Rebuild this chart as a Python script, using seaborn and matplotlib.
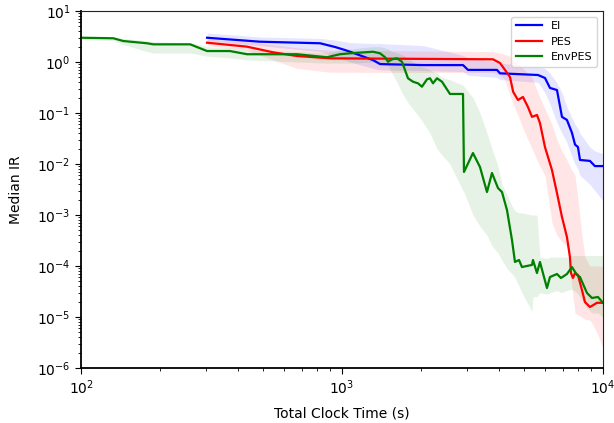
import matplotlib
matplotlib.use("Agg")
import matplotlib.pyplot as plt
import seaborn as sns
import numpy as np

# EI
ei_t = [304, 485, 824, 940, 1026, 1073, 1315, 1399, 2044, 2909, 3040, 3926, 4031, 5636, 5995,
        6266, 6665, 6966, 7278, 7606, 7817, 8020, 8166, 8913, 9314, 10000]
ei_med = [2.99, 2.50, 2.33, 1.97, 1.72, 1.59, 1.09, 0.91, 0.87, 0.87, 0.70, 0.70, 0.60, 0.556, 0.486,
          0.31, 0.282, 0.084, 0.073, 0.041, 0.024, 0.0215, 0.012, 0.0115, 0.0091, 0.0091]
ei_lo = [2.6, 2.1, 1.6, 1.3, 1.1, 1.0, 0.75, 0.70, 0.68, 0.65, 0.55, 0.5, 0.45, 0.40, 0.25,
         0.15, 0.064, 0.04, 0.026, 0.014, 0.01, 0.008, 0.006, 0.004, 0.003, 0.0019]
ei_hi = [3.7, 3.1, 2.9, 2.7, 2.5, 2.4, 2.3, 2.3, 2.1, 1.35, 1.2, 1.0, 0.95, 0.8, 0.75,
         0.6, 0.39, 0.25, 0.13, 0.08, 0.06, 0.05, 0.04, 0.0215, 0.018, 0.016]

# PES
pes_t = [304, 432, 544, 672, 899, 3788, 4031, 4212, 4403, 4528, 4725, 4938, 5160, 5346, 5587,
         5736, 5995, 6377, 6665, 6966, 7278, 7473, 7540, 7673, 7817, 8020, 8309, 8531, 8913,
         9155, 9484, 10000]
pes_med = [2.39, 2.0, 1.55, 1.31, 1.18, 1.13, 0.956, 0.70, 0.508, 0.26, 0.18, 0.206, 0.131, 0.084,
           0.0914, 0.0637, 0.0215, 0.00762, 0.0027, 9.14e-4, 3.7e-4, 1.5e-4, 7.29e-5, 5.82e-5,
           7.29e-5, 6.67e-5, 3.38e-5, 1.97e-5, 1.57e-5, 1.7e-5, 1.9e-5, 1.9e-5]
pes_lo = [2.1, 1.7, 1.1, 0.75, 0.63, 0.62, 0.55, 0.45, 0.22, 0.15, 0.09, 0.05, 0.03, 0.02, 0.012,
          0.009, 0.006, 7e-4, 4e-4, 3e-4, 2.4e-4, 1e-4, 6e-5, 2.5e-5, 1.2e-5, 1.1e-5, 1e-5, 9e-6,
          8.7e-6, 7e-6, 5e-6, 2.5e-6]
pes_hi = [2.8, 2.5, 2.2, 1.9, 1.7, 1.6, 1.5, 1.4, 1.3, 1.1, 0.9, 0.75, 0.6, 0.5, 0.28,
          0.2, 0.12, 0.06, 0.03, 0.018, 0.012, 0.009, 0.008, 0.007, 0.006, 0.002, 4e-4, 1.5e-4,
          1e-4, 1e-4, 1e-4, 1e-4]

# EnvPES
env_t = [100, 133, 145, 179, 189, 262, 304, 372, 433, 672, 876, 982, 1073, 1315, 1399, 1462,
         1501, 1555, 1625, 1698, 1743, 1790, 1871, 1955, 2025, 2117, 2174, 2232, 2312, 2416,
         2593, 2909, 2934, 3176, 3379, 3594, 3756, 3960, 4103, 4288, 4481, 4601, 4767, 4894,
         5346, 5393, 5587, 5736, 6102, 6266, 6665, 6904, 7278, 7606, 7953, 8166, 8685, 9077,
         9568, 10000]
env_med = [2.99, 2.92, 2.58, 2.33, 2.22, 2.22, 1.64, 1.64, 1.42, 1.42, 1.24, 1.42, 1.48, 1.59,
           1.48, 1.24, 1.01, 1.13, 1.18, 1.01, 0.70, 0.479, 0.411, 0.382, 0.328, 0.458, 0.479,
           0.382, 0.479, 0.411, 0.236, 0.236, 0.00697, 0.0164, 0.00873, 0.00282, 0.00667,
           0.00338, 0.00282, 0.00125, 3.24e-4, 1.2e-4, 1.31e-4, 9.55e-5, 1.05e-4, 1.31e-4,
           7.29e-5, 1.2e-4, 3.7e-5, 6.08e-5, 6.97e-5, 5.82e-5, 6.97e-5, 9.55e-5, 6.67e-5,
           6.08e-5, 2.96e-5, 2.36e-5, 2.47e-5, 1.9e-5]
env_lo = [2.8, 2.6, 2.2, 1.6, 1.5, 1.5, 1.3, 1.2, 1.1, 1.0, 0.95, 0.95, 0.95, 1.0, 0.95, 0.9,
          0.85, 0.6, 0.4, 0.25, 0.2, 0.16, 0.12, 0.09, 0.07, 0.05, 0.04, 0.03, 0.02, 0.015,
          0.01, 0.003, 0.0028, 0.001, 6e-4, 4e-4, 2.5e-4, 1.8e-4, 1.3e-4, 9e-5, 7e-5, 6e-5,
          4e-5, 3e-5, 1.3e-5, 2.5e-5, 2.5e-5, 3e-5, 2.8e-5, 3e-5, 3.3e-5, 3e-5, 3.3e-5, 3.5e-5,
          3e-5, 2.5e-5, 1.5e-5, 1.2e-5, 1.2e-5, 1e-5]
env_hi = [3.1, 3.0, 2.9, 2.6, 2.5, 2.4, 2.0, 1.9, 1.7, 1.6, 1.5, 1.7, 1.8, 2.0, 2.0, 1.9,
          1.8, 1.6, 1.5, 1.4, 1.3, 1.2, 1.0, 0.9, 0.8, 0.75, 0.7, 0.65, 0.6, 0.5,
          0.45, 0.35, 0.33, 0.2, 0.1, 0.04, 0.02, 0.009, 0.004, 0.0025, 1.5e-3, 1.2e-3,
          1.1e-3, 1.1e-3, 1e-3, 1e-3, 1e-3, 1.5e-4, 1.4e-4, 1.5e-4, 1.5e-4, 1.5e-4, 1.5e-4,
          1.6e-4, 1.6e-4, 1.6e-4, 1.6e-4, 1.6e-4, 1.6e-4, 1.6e-4]

series = [
    ("EI", "blue", ei_t, ei_med, ei_lo, ei_hi),
    ("PES", "red", pes_t, pes_med, pes_lo, pes_hi),
    ("EnvPES", "green", env_t, env_med, env_lo, env_hi),
]

fig = plt.figure(figsize=(6.14, 4.23), dpi=100)
ax = fig.add_axes([0.132, 0.130, 0.850, 0.844])

for name, color, t, med, lo, hi in series:
    sns.lineplot(x=t, y=med, color=color, linewidth=1.6, label=name, ax=ax,
                 estimator=None, sort=False)
    ax.fill_between(t, lo, hi, color=color, alpha=0.1, linewidth=0)

ax.set_xscale("log")
ax.set_yscale("log")
ax.set_xlim(100, 10000)
ax.set_ylim(1e-6, 10)
ax.set_xlabel("Total Clock Time (s)", fontsize=10, labelpad=7)
ax.set_ylabel("Median IR", fontsize=10, labelpad=10)
ax.tick_params(axis="both", which="major", labelsize=10, length=4, direction="out",
               top=False, right=False)
ax.tick_params(axis="both", which="minor", length=2, direction="out", top=False, right=False)
ax.yaxis.set_minor_locator(matplotlib.ticker.LogLocator(base=10, subs=np.arange(2, 10), numticks=20))

for side in ["left", "bottom"]:
    ax.spines[side].set_linewidth(1.3)
    ax.spines[side].set_color("black")
for side in ["top", "right"]:
    ax.spines[side].set_linewidth(0.8)
    ax.spines[side].set_color("#222222")

ax.legend(loc="upper right", fontsize=8, handlelength=2.4, framealpha=0.8)

fig.savefig("out.png", dpi=100)
